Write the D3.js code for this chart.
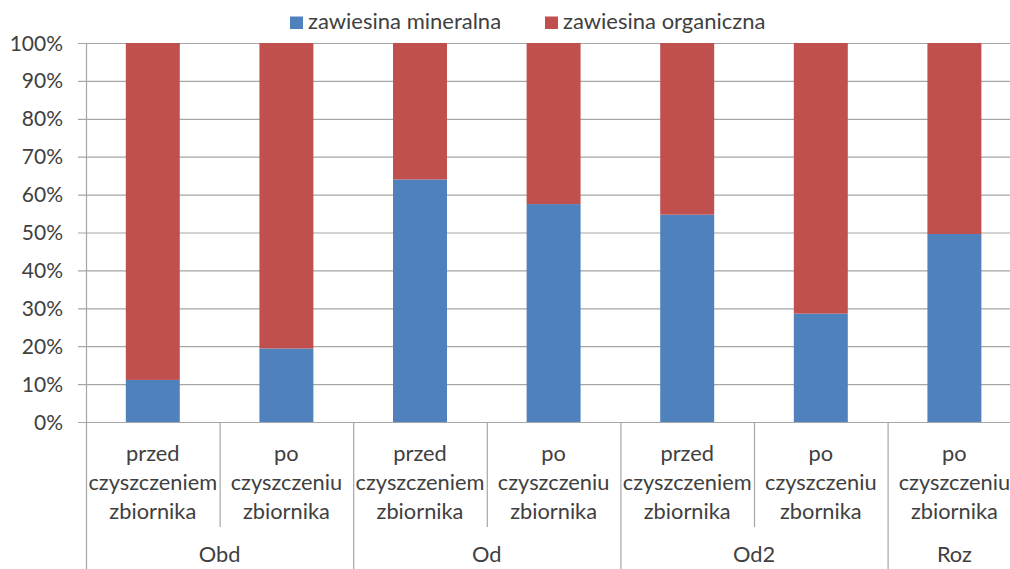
<!DOCTYPE html>
<html>
<head>
<meta charset="utf-8">
<script src="https://cdn.jsdelivr.net/npm/d3@7"></script>
<style>
  html, body { margin: 0; padding: 0; background: #fff; overflow: hidden; }
  svg { display: block; font-family: Lato, "Open Sans", sans-serif; }
</style>
</head>
<body>
<svg id="chart" width="1010" height="569"></svg>
<script>
// Share of mineral vs organic suspended matter per sampling point and stage
const groups = ["Obd", "Obd", "Od", "Od", "Od2", "Od2", "Roz"];
const stages = [
  ["przed", "czyszczeniem", "zbiornika"],
  ["po", "czyszczeniu", "zbiornika"],
  ["przed", "czyszczeniem", "zbiornika"],
  ["po", "czyszczeniu", "zbiornika"],
  ["przed", "czyszczeniem", "zbiornika"],
  ["po", "czyszczeniu", "zbornika"],
  ["po", "czyszczeniu", "zbiornika"]
];
const mineral = [11.1, 19.4, 64.0, 57.5, 54.7, 28.6, 49.6];
const organic = [88.9, 80.6, 36.0, 42.5, 45.3, 71.4, 50.4];
const seriesNames = ["zawiesina mineralna", "zawiesina organiczna"];
const seriesColors = ["#4F81BD", "#C0504D"];
const yTicks = [0, 10, 20, 30, 40, 50, 60, 70, 80, 90, 100];

const svg = d3.select("#chart");
const plotLeft = 86, plotTop = 43, plotBottom = 422, slot = 133.6;
const idx = d3.range(groups.length);

const x = d3.scaleBand()
  .domain(idx)
  .range([plotLeft, plotLeft + slot * idx.length])
  .paddingInner(0.596)
  .paddingOuter(0.298);

const y = d3.scaleLinear().domain([0, 100]).range([plotBottom, plotTop]);

const textColor = "#404040";
const gridColor = "#a6a6a6";

// horizontal gridlines (with short tick stubs left of the axis)
svg.append("g")
  .selectAll("line")
  .data(yTicks)
  .join("line")
  .attr("x1", plotLeft - 8)
  .attr("x2", 1010)
  .attr("y1", d => y(d) + 0.5)
  .attr("y2", d => y(d) + 0.5)
  .attr("stroke", gridColor)
  .attr("stroke-width", 1.2);

// y tick labels
svg.append("g")
  .selectAll("text")
  .data(yTicks)
  .join("text")
  .attr("x", 63)
  .attr("y", d => y(d))
  .attr("dy", "0.36em")
  .attr("text-anchor", "end")
  .attr("font-size", 21)
  .attr("fill", textColor)
  .text(d => d + "%");

// stacked bars
const stackData = idx.map(i => ({ i, m: mineral[i], o: organic[i] }));
const stack = d3.stack().keys(["m", "o"])(stackData);

svg.append("g")
  .selectAll("g")
  .data(stack)
  .join("g")
  .attr("fill", (d, k) => seriesColors[k])
  .selectAll("rect")
  .data(d => d)
  .join("rect")
  .attr("x", d => x(d.data.i))
  .attr("width", x.bandwidth())
  .attr("y", d => y(d[1]))
  .attr("height", d => y(d[0]) - y(d[1]));

// y axis line
svg.append("line")
  .attr("x1", plotLeft + 0.5).attr("x2", plotLeft + 0.5)
  .attr("y1", plotTop).attr("y2", 569)
  .attr("stroke", gridColor).attr("stroke-width", 1.2);

// category separators: short between stages, long between groups
const sepG = svg.append("g");
idx.slice(1).forEach(i => {
  const xs = x(i) - x.step() * x.paddingInner() / 2;
  const groupBreak = groups[i] !== groups[i - 1];
  sepG.append("line")
    .attr("x1", xs + 0.5).attr("x2", xs + 0.5)
    .attr("y1", plotBottom)
    .attr("y2", groupBreak ? 569 : 527)
    .attr("stroke", gridColor)
    .attr("stroke-width", 1.2);
});

// stage labels (three lines each)
const labG = svg.append("g")
  .attr("font-size", 21.8)
  .attr("fill", textColor)
  .attr("text-anchor", "middle");
idx.forEach(i => {
  const cx = x(i) + x.bandwidth() / 2;
  stages[i].forEach((line, j) => {
    labG.append("text")
      .attr("x", cx)
      .attr("y", 461 + j * 29)
      .text(line);
  });
});

// group labels centred under their stages
const groupNames = Array.from(new Set(groups));
groupNames.forEach(g => {
  const members = idx.filter(i => groups[i] === g);
  const x0 = x(members[0]) - x.step() * x.paddingInner() / 2;
  const x1 = x(members[members.length - 1]) + x.bandwidth() + x.step() * x.paddingInner() / 2;
  labG.append("text")
    .attr("x", (x0 + x1) / 2)
    .attr("y", 562)
    .text(g);
});

// legend
const legend = svg.append("g").attr("font-size", 22).attr("fill", textColor);
const legendX = [290, 545];
seriesNames.forEach((name, k) => {
  legend.append("rect")
    .attr("x", legendX[k]).attr("y", 16.5)
    .attr("width", 13).attr("height", 12.5)
    .attr("fill", seriesColors[k]);
  legend.append("text")
    .attr("x", legendX[k] + 18).attr("y", 28.7)
    .text(name);
});
</script>
</body>
</html>
